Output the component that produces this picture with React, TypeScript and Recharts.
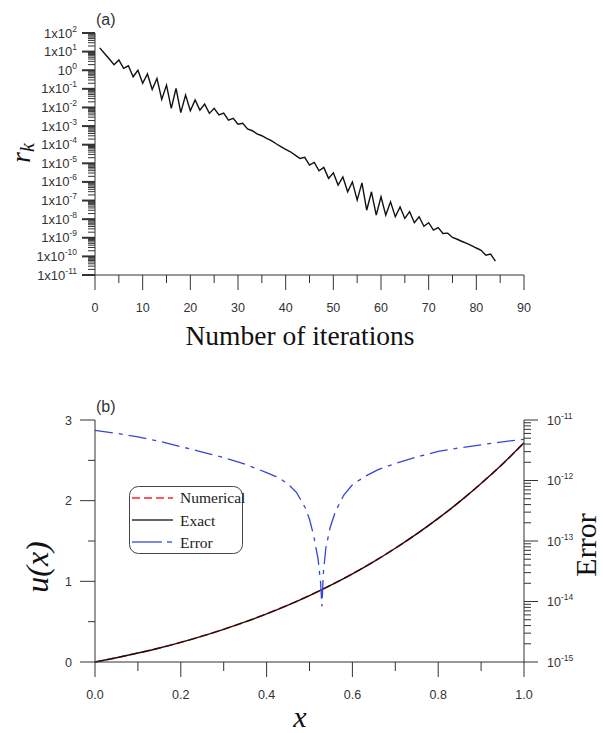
import { LineChart, Line, XAxis, YAxis } from 'recharts';

// (a) residual r_k per iteration, stored as log10 values
const residualExp = [
  1.2, 0.9, 0.6, 0.3, 0.55, 0.1, 0.24, -0.35, 0.0, -0.7,
  -0.2, -1.03, -0.44, -1.57, -0.8, -2.05, -0.97, -2.28, -1.33, -2.18,
  -1.6, -2.14, -1.82, -2.32, -2.05, -2.4, -2.3, -2.68, -2.58, -2.9,
  -2.85, -3.15, -3.25, -3.42, -3.52, -3.66, -3.78, -3.95, -4.1, -4.25,
  -4.38, -4.56, -4.74, -4.68, -5.1, -4.95, -5.4, -5.22, -5.81, -5.51,
  -6.17, -5.73, -6.53, -6.0, -6.98, -6.05, -7.52, -6.53, -7.78, -6.8,
  -7.78, -7.07, -7.87, -7.34, -7.96, -7.6, -8.19, -7.87, -8.38, -8.19,
  -8.59, -8.45, -8.77, -8.75, -8.98, -9.08, -9.2, -9.3, -9.42, -9.55,
  -9.67, -9.94, -9.88, -10.26,
];
const iterTicks = [0, 5, 10, 15, 20, 25, 30, 35, 40, 45, 50, 55, 60, 65, 70, 75, 80, 85, 90];
const residDecades = [-11, -10, -9, -8, -7, -6, -5, -4, -3, -2, -1, 0, 1, 2];

// (b) solution u(x) and error
const uX = [0, 0.05, 0.1, 0.15, 0.2, 0.25, 0.3, 0.35, 0.4, 0.45, 0.5, 0.55, 0.6, 0.65, 0.7, 0.75, 0.8, 0.85, 0.9, 0.95, 1.0];
const uExact = [0, 0.053, 0.111, 0.174, 0.244, 0.321, 0.405, 0.497, 0.597, 0.706, 0.824, 0.953, 1.093, 1.245, 1.41, 1.588, 1.78, 1.988, 2.213, 2.454, 2.718];
const uNumerical = [0, 0.053, 0.111, 0.174, 0.244, 0.321, 0.405, 0.497, 0.597, 0.706, 0.824, 0.953, 1.093, 1.245, 1.41, 1.588, 1.78, 1.988, 2.213, 2.454, 2.718];
const errX = [0, 0.05, 0.1, 0.15, 0.2, 0.25, 0.3, 0.35, 0.4, 0.43, 0.45, 0.47, 0.49, 0.5, 0.51, 0.52, 0.526, 0.529, 0.532, 0.538, 0.548, 0.56, 0.58, 0.6, 0.63, 0.66, 0.7, 0.75, 0.8, 0.85, 0.9, 0.95, 1.0];
const errExp = [-11.17, -11.22, -11.28, -11.35, -11.44, -11.53, -11.62, -11.73, -11.87, -11.96, -12.06, -12.2, -12.45, -12.64, -12.92, -13.3, -13.7, -14.08, -13.55, -13.12, -12.78, -12.52, -12.24, -12.07, -11.93, -11.82, -11.72, -11.61, -11.52, -11.46, -11.41, -11.36, -11.32];
const xTicks = [0, 0.1, 0.2, 0.3, 0.4, 0.5, 0.6, 0.7, 0.8, 0.9, 1.0];
const uTicks = [0, 0.5, 1, 1.5, 2, 2.5, 3];
const errDecades = [-15, -14, -13, -12, -11];

const AXIS = '#333';
const LABEL = '#333';
const SANS = '"Liberation Sans", Arial, sans-serif';
const SERIF = '"Liberation Serif", "Times New Roman", serif';
const BLUE = '#3347d6';
const ERR_DASH = '18 6 4 6';

const logTicks = (decades: number[]) => {
  const out: number[] = [];
  decades.forEach((d, i) => {
    out.push(Math.pow(10, d));
    if (i < decades.length - 1) for (let k = 2; k <= 9; k++) out.push(k * Math.pow(10, d));
  });
  return out;
};

const isDecade = (v: number) => {
  const l = Math.log10(v);
  return Math.abs(l - Math.round(l)) < 1e-6;
};

const residData = residualExp.map((e, i) => ({ it: i + 1, r: Math.pow(10, e) }));
const exactData = uX.map((x, i) => ({ x, u: uExact[i] }));
const numData = uX.map((x, i) => ({ x, u: uNumerical[i] }));
const errData = errX.map((x, i) => ({ x, err: Math.pow(10, errExp[i]) }));

const ResidTick = (props: any) => {
  const { x, y, payload } = props;
  const major = isDecade(payload.value);
  const e = Math.round(Math.log10(payload.value));
  return (
    <g>
      <line x1={x - (major ? 13 : 7)} x2={x} y1={y} y2={y} stroke={AXIS} strokeWidth={major ? 2 : 1} />
      {major && (
        <text x={x - 18} y={y + 4.5} textAnchor="end" fontSize={13} fill={LABEL} fontFamily={SANS}>
          {e === 0 ? '10' : '1x10'}
          <tspan dy={-6} fontSize={8.5}>{e}</tspan>
        </text>
      )}
    </g>
  );
};

const IterTick = (props: any) => {
  const { x, y, payload } = props;
  const major = payload.value % 10 === 0;
  return (
    <g>
      <line x1={x} x2={x} y1={y} y2={y + (major ? 15 : 8)} stroke={AXIS} />
      {major && (
        <text x={x} y={y + 37} textAnchor="middle" fontSize={12.5} fill={LABEL} fontFamily={SANS}>
          {payload.value}
        </text>
      )}
    </g>
  );
};

const XTick = (props: any) => {
  const { x, y, payload } = props;
  const major = Math.round(payload.value * 10) % 2 === 0;
  return (
    <g>
      <line x1={x} x2={x} y1={y} y2={y + (major ? 15 : 9)} stroke={AXIS} />
      {major && (
        <text x={x} y={y + 37} textAnchor="middle" fontSize={12.5} fill={LABEL} fontFamily={SANS}>
          {payload.value.toFixed(1)}
        </text>
      )}
    </g>
  );
};

const UTick = (props: any) => {
  const { x, y, payload } = props;
  const major = Number.isInteger(payload.value);
  return (
    <g>
      <line x1={x - (major ? 15 : 7)} x2={x} y1={y} y2={y} stroke={AXIS} />
      {major && (
        <text x={x - 23} y={y + 4.5} textAnchor="end" fontSize={12.5} fill={LABEL} fontFamily={SANS}>
          {payload.value}
        </text>
      )}
    </g>
  );
};

const ErrTick = (props: any) => {
  const { x, y, payload } = props;
  const major = isDecade(payload.value);
  const e = Math.round(Math.log10(payload.value));
  return (
    <g>
      <line x1={x} x2={x + (major ? 14 : 7)} y1={y} y2={y} stroke={AXIS} />
      {major && (
        <text x={x + 23} y={y + 4.5} textAnchor="start" fontSize={12.5} fill={LABEL} fontFamily={SANS}>
          10
          <tspan dy={-6} fontSize={8.5}>{e}</tspan>
        </text>
      )}
    </g>
  );
};

export default function App() {
  return (
    <div style={{ position: 'absolute', left: 0, top: 0, width: 603, height: 733, background: '#fff' }}>
      <div style={{ position: 'absolute', left: 0, top: 0 }}>
        <LineChart width={603} height={360} data={residData} margin={{ top: 33, right: 79, bottom: 35, left: 0 }}>
          <XAxis
            dataKey="it"
            type="number"
            domain={[0, 90]}
            ticks={iterTicks}
            interval={0}
            height={50}
            tickSize={0}
            tickMargin={0}
            tickLine={false}
            axisLine={{ stroke: AXIS }}
            tick={<IterTick />}
          />
          <YAxis
            scale="log"
            domain={[1e-11, 100]}
            ticks={logTicks(residDecades)}
            interval={0}
            width={95}
            tickSize={0}
            tickMargin={0}
            tickLine={false}
            axisLine={{ stroke: AXIS }}
            tick={<ResidTick />}
            allowDataOverflow
          />
          <Line type="linear" dataKey="r" stroke="#111" strokeWidth={1.4} dot={false} isAnimationActive={false} />
        </LineChart>
      </div>
      <div style={{ position: 'absolute', left: 0, top: 360 }}>
        <LineChart width={603} height={373} margin={{ top: 60, right: 0, bottom: 21, left: 0 }}>
          <XAxis
            dataKey="x"
            type="number"
            domain={[0, 1]}
            ticks={xTicks}
            interval={0}
            height={50}
            tickSize={0}
            tickMargin={0}
            tickLine={false}
            axisLine={{ stroke: AXIS }}
            tick={<XTick />}
            allowDuplicatedCategory={false}
          />
          <YAxis
            yAxisId="u"
            orientation="left"
            domain={[0, 3]}
            ticks={uTicks}
            interval={0}
            width={95}
            tickSize={0}
            tickMargin={0}
            tickLine={false}
            axisLine={{ stroke: AXIS }}
            tick={<UTick />}
          />
          <YAxis
            yAxisId="err"
            orientation="right"
            scale="log"
            domain={[1e-15, 1e-11]}
            ticks={logTicks(errDecades)}
            interval={0}
            width={79}
            tickSize={0}
            tickMargin={0}
            tickLine={false}
            axisLine={{ stroke: AXIS }}
            tick={<ErrTick />}
            allowDataOverflow
          />
          <Line yAxisId="u" data={numData} type="monotone" dataKey="u" stroke="#ff2020" strokeWidth={1.6} strokeDasharray="8 4" dot={false} isAnimationActive={false} />
          <Line yAxisId="u" data={exactData} type="monotone" dataKey="u" stroke="#1a1010" strokeWidth={1.4} dot={false} isAnimationActive={false} />
          <Line yAxisId="err" data={errData} type="linear" dataKey="err" stroke={BLUE} strokeWidth={1.3} strokeDasharray={ERR_DASH} dot={false} isAnimationActive={false} />
        </LineChart>
      </div>
      <svg width={603} height={733} style={{ position: 'absolute', left: 0, top: 0, pointerEvents: 'none' }}>
        <text x={96} y={25} fontSize={16} fill={LABEL} fontFamily={SANS}>(a)</text>
        <text x={96} y={412} fontSize={16} fill={LABEL} fontFamily={SANS}>(b)</text>
        <text x={300} y={345} textAnchor="middle" fontSize={27.5} fill="#111" fontFamily={SERIF}>Number of iterations</text>
        <text x={300} y={727} textAnchor="middle" fontSize={30} fontStyle="italic" fill="#111" fontFamily={SERIF}>x</text>
        <text transform="translate(30,163) rotate(-90)" fontSize={28} fontStyle="italic" fill="#111" fontFamily={SERIF}>
          r<tspan dy={4} fontSize={20}>k</tspan>
        </text>
        <text transform="translate(48,567) rotate(-90)" textAnchor="middle" fontSize={32} fontStyle="italic" fill="#111" fontFamily={SERIF}>
          u(x)
        </text>
        <text transform="translate(596,545) rotate(-90)" textAnchor="middle" fontSize={30} fill="#111" fontFamily={SERIF}>
          Error
        </text>
        <g>
          <rect x={129.5} y={486.5} width={113} height={67} rx={9} fill="#fff" stroke="#444" />
          <line x1={132} x2={173} y1={498} y2={498} stroke="#ff2020" strokeWidth={1.5} strokeDasharray="8 4" />
          <text x={180} y={503} fontSize={15.5} fill="#222" fontFamily={SERIF}>Numerical</text>
          <line x1={132} x2={173} y1={520} y2={520} stroke="#333" strokeWidth={1.5} />
          <text x={180} y={525.5} fontSize={15.5} fill="#222" fontFamily={SERIF}>Exact</text>
          <line x1={132} x2={162} y1={542} y2={542} stroke={BLUE} strokeWidth={1.3} />
          <line x1={167} x2={172} y1={542} y2={542} stroke={BLUE} strokeWidth={1.3} />
          <text x={180} y={547.5} fontSize={15.5} fill="#222" fontFamily={SERIF}>Error</text>
        </g>
      </svg>
    </div>
  );
}
